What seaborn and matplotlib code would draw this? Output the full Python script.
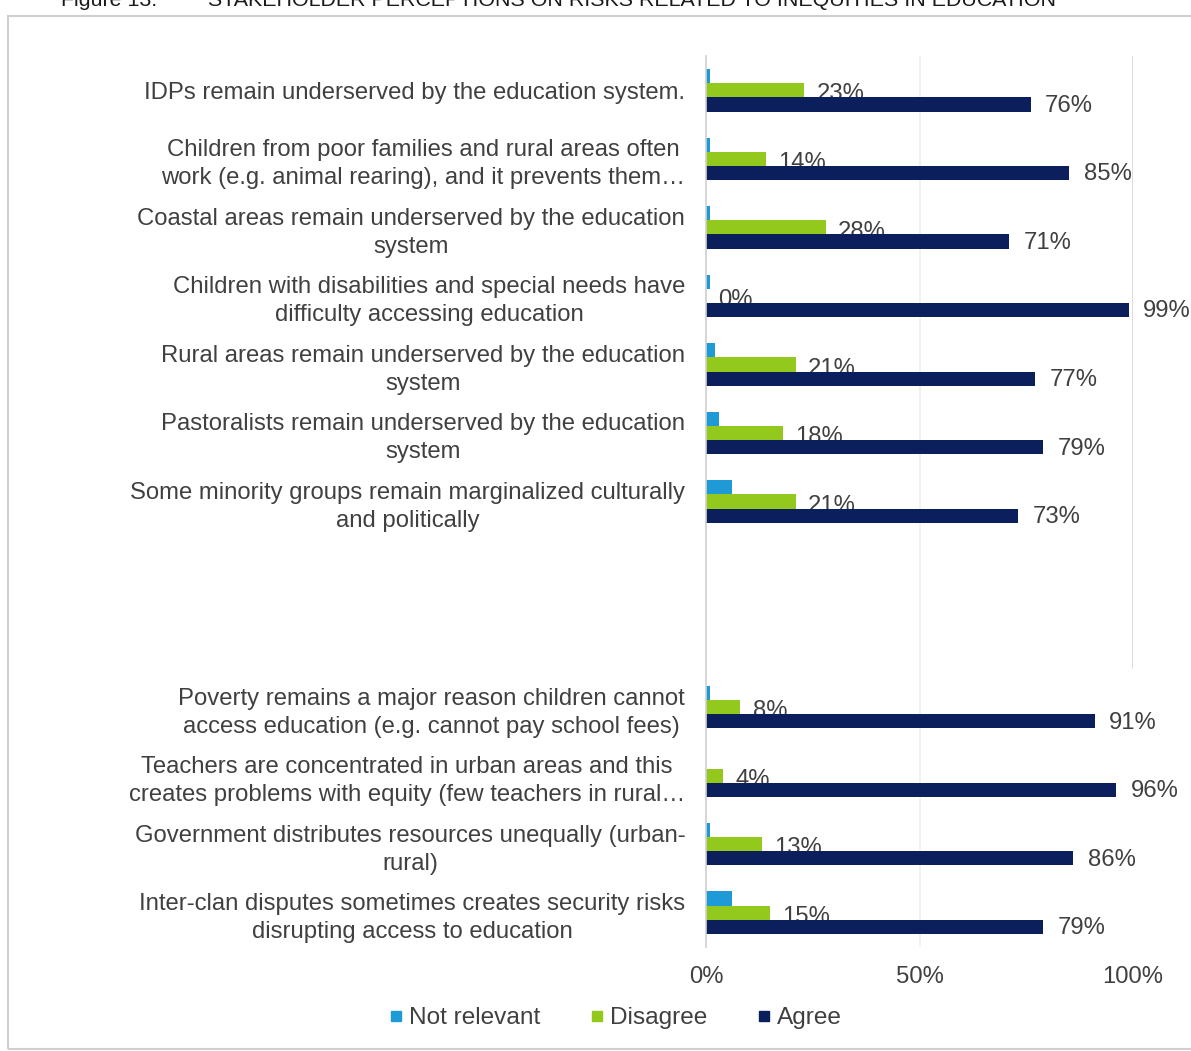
import numpy as np
import pandas as pd
import seaborn as sns
import matplotlib.pyplot as plt
from matplotlib.lines import Line2D
from matplotlib.patches import Rectangle
from matplotlib.ticker import PercentFormatter

# Survey statements (upper block, then lower block)
statements_upper = [
    "IDPs remain underserved by the education system.",
    "Children from poor families and rural areas often\nwork (e.g. animal rearing), and it prevents them\u2026",
    "Coastal areas remain underserved by the education\nsystem",
    "Children with disabilities and special needs have\ndifficulty accessing education",
    "Rural areas remain underserved by the education\nsystem",
    "Pastoralists remain underserved by the education\nsystem",
    "Some minority groups remain marginalized culturally\nand politically",
]
statements_lower = [
    "Poverty remains a major reason children cannot\naccess education (e.g. cannot pay school fees)",
    "Teachers are concentrated in urban areas and this\ncreates problems with equity (few teachers in rural\u2026",
    "Government distributes resources unequally (urban-\nrural)",
    "Inter-clan disputes sometimes creates security risks\ndisrupting access to education",
]
spacers = [" ", "  "]

# Share of respondents (%)
not_relevant = [1, 1, 1, 1, 2, 3, 6, 1, 0, 1, 6]
disagree = [23, 14, 28, 0, 21, 18, 21, 8, 4, 13, 15]
agree = [76, 85, 71, 99, 77, 79, 73, 91, 96, 86, 79]

series = ["Not relevant", "Disagree", "Agree"]
colors = ["#1E9BD7", "#93C91C", "#0B1F5C"]

statements = statements_upper + statements_lower
order = statements_upper + spacers + statements_lower

df = pd.DataFrame({
    "statement": np.repeat(statements, 3),
    "series": series * len(statements),
    "value": np.ravel(np.column_stack([not_relevant, disagree, agree])),
})

sns.set_style("white")
plt.rcParams["font.family"] = ["Liberation Sans", "DejaVu Sans"]

W, H = 1191, 1051
fig = plt.figure(figsize=(W / 100, H / 100), dpi=100)
ax = fig.add_axes([706 / W, 1 - 947 / H, (1133 - 706) / W, (947 - 56) / H])

sns.barplot(
    data=df, y="statement", x="value", hue="series",
    order=order, hue_order=series, palette=colors,
    orient="h", width=0.62, saturation=1, errorbar=None,
    edgecolor="none", linewidth=0, legend=False, ax=ax,
)

text_color = "#404040"
FS = 17.2

ax.set_xlim(0, 100)
ax.set_xticks([0, 50, 100])
ax.xaxis.set_major_formatter(PercentFormatter(100, decimals=0))
ax.set_xlabel("")
ax.set_ylabel("")
ax.tick_params(axis="both", length=0, labelsize=FS, labelcolor=text_color)
ax.tick_params(axis="y", pad=15)
ax.tick_params(axis="x", pad=14)
for lab in ax.get_yticklabels():
    lab.set_multialignment("center")
    lab.set_linespacing(1.35)

for side in ["top", "right", "bottom"]:
    ax.spines[side].set_visible(False)
ax.spines["left"].set_color("#d0d0d0")
ax.spines["left"].set_linewidth(1.2)

# light reference lines at 50% and 100%
ax.axvline(50, color="#efefef", lw=1.2, zorder=0)
ax.axvline(100, ymin=(947 - 668) / (947 - 56), ymax=1.0, color="#d6d6d6", lw=1.2, zorder=0)

# value labels for Disagree and Agree bars
label_style = {
    "Disagree": dict(dx=9, dy=-3.0, z=0.5),
    "Agree": dict(dx=10.5, dy=-1.0, z=3),
}
for name, cont in zip(series, ax.containers):
    if name not in label_style:
        continue
    st = label_style[name]
    for rect in cont:
        w = rect.get_width()
        yc = rect.get_y() + rect.get_height() / 2
        ax.annotate(
            f"{w:.0f}%", xy=(w, yc), xytext=(st["dx"], st["dy"]),
            textcoords="offset points", ha="left", va="center",
            fontsize=FS, color=text_color, zorder=st["z"], annotation_clip=False,
        )

# legend below the plot
handles = [Line2D([], [], marker="s", linestyle="", markersize=6.5,
                  markerfacecolor=c, markeredgecolor=c) for c in colors]
fig.legend(
    handles, series, loc="center", bbox_to_anchor=(616 / W, 1 - 1018 / H),
    ncol=3, frameon=False, fontsize=17.6, handlelength=0.5, handletextpad=0.3,
    columnspacing=2.05, labelcolor=text_color,
)

# figure caption along the top edge
fig.text(61 / W, 1 - 6 / H, "Figure 13:", fontsize=15.4, color="#1a1a1a", va="baseline")
fig.text(208 / W, 1 - 6 / H,
         "STAKEHOLDER PERCEPTIONS ON RISKS RELATED TO INEQUITIES IN EDUCATION",
         fontsize=15.4, color="#1a1a1a", va="baseline")

# chart frame
fig.patches.append(Rectangle(
    (8 / W, 1 - 1049 / H), (W - 8) / W + 0.01, (1049 - 16) / H,
    transform=fig.transFigure, fill=False, edgecolor="#cfcfcf", lw=1.5,
))

fig.savefig("out.png", dpi=100)
